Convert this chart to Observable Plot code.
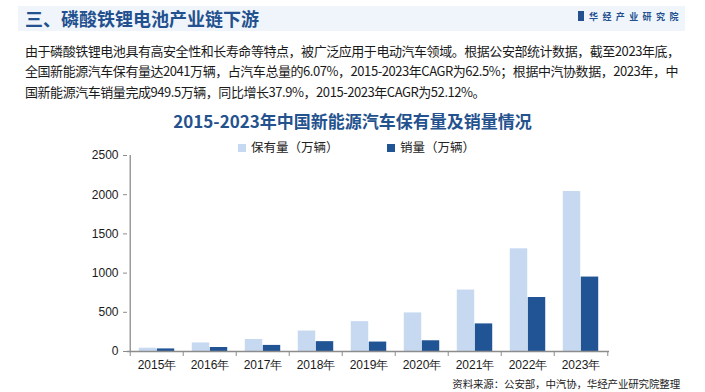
<!DOCTYPE html>
<html>
<head>
<meta charset="utf-8">
<script src="https://cdn.jsdelivr.net/npm/d3@7"></script>
<script src="https://cdn.jsdelivr.net/npm/@observablehq/plot@0.6"></script>
<style>
  html, body { margin: 0; padding: 0; background: #fff; }
  #root { position: relative; width: 705px; height: 392px; overflow: hidden; font-family: "Noto Sans CJK SC", "Noto Sans", sans-serif; }
  .abs { position: absolute; white-space: nowrap; }
  #band { left: 18px; top: 6px; width: 667px; height: 25px; background: #f0f5fc; }
  #head { left: 25px; top: 6px; height: 25px; line-height: 25px; font-size: 18px; font-weight: bold; color: #23508e; }
  #logo { left: 578px; top: 11px; height: 12px; line-height: 12px; font-size: 9px; font-weight: bold; color: #23508e; letter-spacing: 4.4px; }
  #logo i { display: inline-block; width: 6px; height: 10px; background: #23508e; margin-right: 5px; vertical-align: -1px; font-style: normal; }
  .para { left: 25px; font-size: 13px; color: #1a1a1a; letter-spacing: -0.45px; line-height: 20px; }
  #ctitle { left: 0; width: 705px; text-align: center; top: 109px; font-size: 17px; font-weight: bold; color: #24528e; line-height: 24px; }
  .leg { top: 139px; font-size: 12.5px; color: #222; line-height: 16px; }
  .sw { display: inline-block; width: 8px; height: 8px; margin-right: 5px; vertical-align: 0px; }
  #chart { left: 0; top: 150px; }
  #cap { right: 25px; top: 376px; font-size: 10.5px; letter-spacing: -0.15px; color: #222; line-height: 16px; }
</style>
</head>
<body>
<div id="root">
  <div class="abs" id="band"></div>
  <div class="abs" id="head">三、磷酸铁锂电池产业链下游</div>
  <div class="abs" id="logo"><i></i>华经产业研究院</div>
  <div class="abs para" style="top:41px">由于磷酸铁锂电池具有高安全性和长寿命等特点，被广泛应用于电动汽车领域。根据公安部统计数据，截至2023年底，</div>
  <div class="abs para" style="top:61px">全国新能源汽车保有量达2041万辆，占汽车总量的6.07%，2015-2023年CAGR为62.5%；根据中汽协数据，2023年，中</div>
  <div class="abs para" style="top:82px">国新能源汽车销量完成949.5万辆，同比增长37.9%，2015-2023年CAGR为52.12%。</div>
  <div class="abs" id="ctitle">2015-2023年中国新能源汽车保有量及销量情况</div>
  <div class="abs leg" style="left:238px"><span class="sw" style="background:#c6d9f1"></span>保有量（万辆）</div>
  <div class="abs leg" style="left:387px"><span class="sw" style="background:#215495"></span>销量（万辆）</div>
  <div class="abs" id="chart"></div>
  <div class="abs" id="cap">资料来源：公安部，中汽协，华经产业研究院整理</div>
</div>
<script>
const years = ["2015年","2016年","2017年","2018年","2019年","2020年","2021年","2022年","2023年"];
const holding = [42, 109, 153, 261, 381, 492, 784, 1310, 2041];
const sales = [33, 51, 77.7, 125.6, 120.6, 136.7, 352.1, 688.7, 949.5];
const yTicks = [0, 500, 1000, 1500, 2000, 2500];
const colors = {holding: "#c6d9f1", sales: "#215495"};

const W = 705, H = 230, ML = 127, MR = 96, MT = 5, MB = 29;
const bw = (W - ML - MR) / years.length;
const barW = 18;
const rows = years.map((y, i) => ({year: y, holding: holding[i], sales: sales[i]}));
const axisColor = "#8c8c8c";

const plot = Plot.plot({
  width: W, height: H,
  marginLeft: ML, marginRight: MR, marginTop: MT, marginBottom: MB,
  style: {fontFamily: "'Liberation Sans', Arial, sans-serif", fontSize: "12px", color: "#1a1a1a", background: "transparent", overflow: "visible"},
  x: {type: "band", domain: years, padding: 0, axis: null, label: null},
  y: {domain: [0, 2500], axis: null, label: null},
  marks: [
    Plot.barY(rows, {x: "year", y: "holding", fill: colors.holding, insetLeft: bw/2 - barW, insetRight: bw/2}),
    Plot.barY(rows, {x: "year", y: "sales", fill: colors.sales, insetLeft: bw/2, insetRight: bw/2 - barW}),
    Plot.ruleY([0], {stroke: axisColor, strokeWidth: 1.3}),
    Plot.ruleX([years[0]], {y1: 0, y2: 2500, dx: -bw/2, stroke: axisColor, strokeWidth: 1.3}),
    Plot.axisY({ticks: yTicks, tickSize: 4, tickPadding: 5, tickFormat: d => String(d), stroke: axisColor, fill: "#1a1a1a", fontSize: 12, anchor: "left", label: null}),
    Plot.axisX({ticks: years, tickSize: 5, tickFormat: () => "", dx: -bw/2, stroke: axisColor, label: null}),
    Plot.axisX({ticks: [years[years.length-1]], tickSize: 5, tickFormat: () => "", dx: bw/2, stroke: axisColor, label: null}),
    Plot.axisX({ticks: years, tickSize: 0, tickPadding: 9, fill: "#1a1a1a", fontSize: 12, label: null})
  ]
});
document.getElementById("chart").appendChild(plot);
</script>
</body>
</html>
